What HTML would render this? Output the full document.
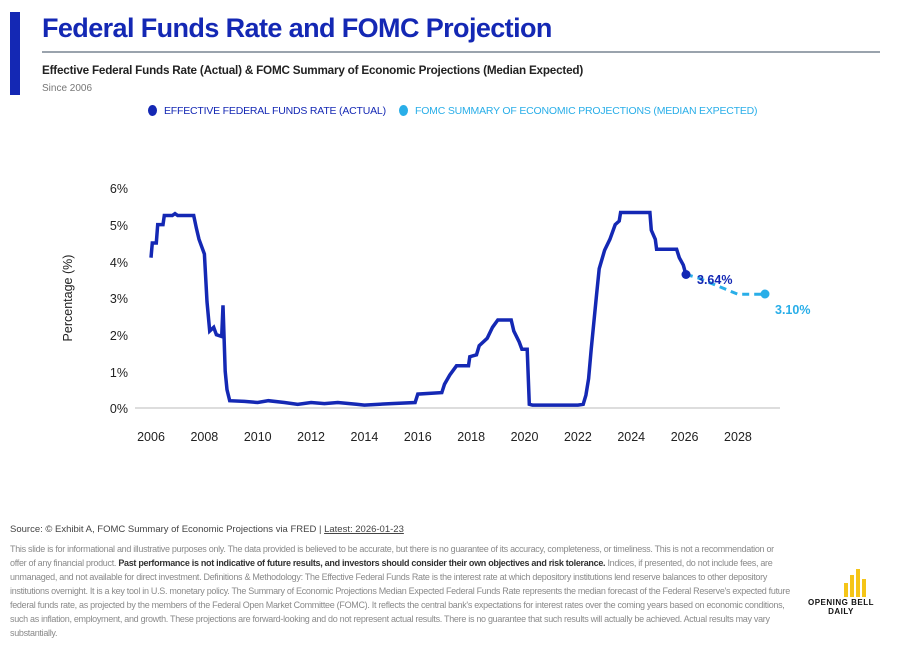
<!DOCTYPE html>
<html><head><meta charset="utf-8"><style>
body{margin:0;background:#fff;font-family:"Liberation Sans",sans-serif;}
#w{position:relative;width:902px;height:646px;overflow:hidden;}
.bar{position:absolute;left:10px;top:12px;width:10px;height:83px;background:#1428b4;}
h1{position:absolute;left:42px;top:13px;margin:0;font-size:27px;font-weight:bold;color:#1428b4;letter-spacing:-0.6px;}
.rule{position:absolute;left:42px;top:51px;width:838px;height:2px;background:#9aa3ad;}
.sub{position:absolute;left:42px;top:64px;font-size:11.7px;font-weight:bold;color:#222;letter-spacing:-0.2px;}
.since{position:absolute;left:42px;top:83px;font-size:10px;color:#777;}
.leg{position:absolute;top:105px;font-size:10.5px;letter-spacing:-0.2px;}
.dot{display:inline-block;width:9px;height:11px;border-radius:50%;vertical-align:-2px;margin-right:7px;}
.src{position:absolute;left:10px;top:524px;font-size:9.5px;color:#444;}
.disc{position:absolute;left:10px;top:542px;width:780px;font-size:9px;line-height:14px;color:#8a8a8a;letter-spacing:-0.3px;}
.disc b{color:#333;}
.logo{position:absolute;left:808px;top:598px;font-size:8px;font-weight:bold;text-align:center;line-height:9px;letter-spacing:0.5px;color:#111;}
</style></head><body><div id="w">
<div class="bar"></div>
<h1>Federal Funds Rate and FOMC Projection</h1>
<div class="rule"></div>
<div class="sub">Effective Federal Funds Rate (Actual) &amp; FOMC Summary of Economic Projections (Median Expected)</div>
<div class="since">Since 2006</div>
<div class="leg" style="left:148px;color:#1428b4"><span class="dot" style="background:#1428b4"></span>EFFECTIVE FEDERAL FUNDS RATE (ACTUAL)</div>
<div class="leg" style="left:399px;color:#29aee8"><span class="dot" style="background:#29aee8"></span>FOMC SUMMARY OF ECONOMIC PROJECTIONS (MEDIAN EXPECTED)</div>
<svg id="c" width="902" height="500" style="position:absolute;left:0;top:0">
<g font-size="12.5" fill="#222" font-family="Liberation Sans">
<text x="128" y="193" text-anchor="end">6%</text>
<text x="128" y="230" text-anchor="end">5%</text>
<text x="128" y="267" text-anchor="end">4%</text>
<text x="128" y="303" text-anchor="end">3%</text>
<text x="128" y="340" text-anchor="end">2%</text>
<text x="128" y="377" text-anchor="end">1%</text>
<text x="128" y="413" text-anchor="end">0%</text>
<text x="72" y="298" transform="rotate(-90 72 298)" text-anchor="middle">Percentage (%)</text>
</g>
<line x1="135" y1="408" x2="780" y2="408" stroke="#bbb" stroke-width="1"/>
<g id="xt" font-size="12.5" fill="#222" font-family="Liberation Sans" text-anchor="middle"></g>
<polyline id="act" fill="none" stroke="#1428b4" stroke-width="3.5" stroke-linejoin="miter"/>
<polyline id="proj" fill="none" stroke="#29aee8" stroke-width="3" stroke-dasharray="7,5"/>
<circle cx="686" cy="274.5" r="4.5" fill="#1428b4"/>
<circle cx="765" cy="294" r="4.5" fill="#29aee8"/>
<text x="697" y="284" font-size="12.5" font-weight="bold" fill="#1428b4">3.64%</text>
<text x="775" y="314" font-size="12.5" font-weight="bold" fill="#29aee8">3.10%</text>
</svg>
<div class="src">Source: © Exhibit A, FOMC Summary of Economic Projections via FRED | <u>Latest: 2026-01-23</u></div>
<div class="disc">This slide is for informational and illustrative purposes only. The data provided is believed to be accurate, but there is no guarantee of its accuracy, completeness, or timeliness. This is not a recommendation or offer of any financial product. <b>Past performance is not indicative of future results, and investors should consider their own objectives and risk tolerance.</b> Indices, if presented, do not include fees, are unmanaged, and not available for direct investment. Definitions &amp; Methodology: The Effective Federal Funds Rate is the interest rate at which depository institutions lend reserve balances to other depository institutions overnight. It is a key tool in U.S. monetary policy. The Summary of Economic Projections Median Expected Federal Funds Rate represents the median forecast of the Federal Reserve's expected future federal funds rate, as projected by the members of the Federal Open Market Committee (FOMC). It reflects the central bank's expectations for interest rates over the coming years based on economic conditions, such as inflation, employment, and growth. These projections are forward-looking and do not represent actual results. There is no guarantee that such results will actually be achieved. Actual results may vary substantially.</div>
<svg style="position:absolute;left:840px;top:569px" width="30" height="28"><g fill="#f5c518"><rect x="4" y="14" width="4" height="14"/><rect x="10" y="6" width="4" height="22"/><rect x="16" y="0" width="4" height="28"/><rect x="22" y="10" width="4" height="18"/></g></svg>
<div class="logo">OPENING BELL<br>DAILY</div>
</div>
<script>
const X=y=>151+(y-2006)*26.68, Y=r=>408-r*36.67;
const d=[[2006,4.1],[2006.05,4.5],[2006.2,4.5],[2006.25,5.0],[2006.45,5.0],[2006.5,5.25],[2006.8,5.25],[2006.9,5.3],[2007.0,5.25],[2007.6,5.25],[2007.7,4.9],[2007.8,4.6],[2008.0,4.2],[2008.1,2.9],[2008.2,2.1],[2008.35,2.2],[2008.45,2.0],[2008.65,1.95],[2008.7,2.8],[2008.78,1.0],[2008.85,0.5],[2008.95,0.2],[2009.5,0.18],[2010,0.15],[2010.4,0.2],[2011,0.15],[2011.5,0.1],[2012,0.15],[2012.5,0.12],[2013,0.15],[2013.7,0.1],[2014,0.08],[2015,0.12],[2015.9,0.15],[2016.0,0.38],[2016.9,0.42],[2017.0,0.65],[2017.2,0.9],[2017.45,1.15],[2017.9,1.15],[2017.95,1.4],[2018.2,1.45],[2018.3,1.7],[2018.6,1.9],[2018.8,2.2],[2019.0,2.4],[2019.5,2.4],[2019.6,2.1],[2019.8,1.8],[2019.9,1.6],[2020.1,1.6],[2020.18,0.1],[2020.3,0.08],[2021,0.08],[2021.5,0.08],[2022.0,0.08],[2022.2,0.1],[2022.3,0.35],[2022.4,0.8],[2022.5,1.6],[2022.6,2.35],[2022.7,3.1],[2022.8,3.8],[2023.0,4.3],[2023.2,4.6],[2023.4,5.0],[2023.55,5.1],[2023.6,5.33],[2024.7,5.33],[2024.75,4.85],[2024.9,4.6],[2024.95,4.33],[2025.7,4.33],[2025.8,4.1],[2025.95,3.9],[2026.05,3.64]];
document.getElementById('act').setAttribute('points',d.map(p=>X(p[0]).toFixed(1)+','+Y(p[1]).toFixed(1)).join(' '));
const pj=[[2026.05,3.64],[2026.5,3.55],[2027,3.4],[2027.5,3.25],[2028,3.1],[2029.05,3.1]];
document.getElementById('proj').setAttribute('points',pj.map(p=>X(p[0]).toFixed(1)+','+Y(p[1]).toFixed(1)).join(' '));
let g=document.getElementById('xt'),s='';
for(let y=2006;y<=2028;y+=2)s+=`<text x="${X(y)}" y="441">${y}</text>`;
g.innerHTML=s;
</script>
</body></html>
